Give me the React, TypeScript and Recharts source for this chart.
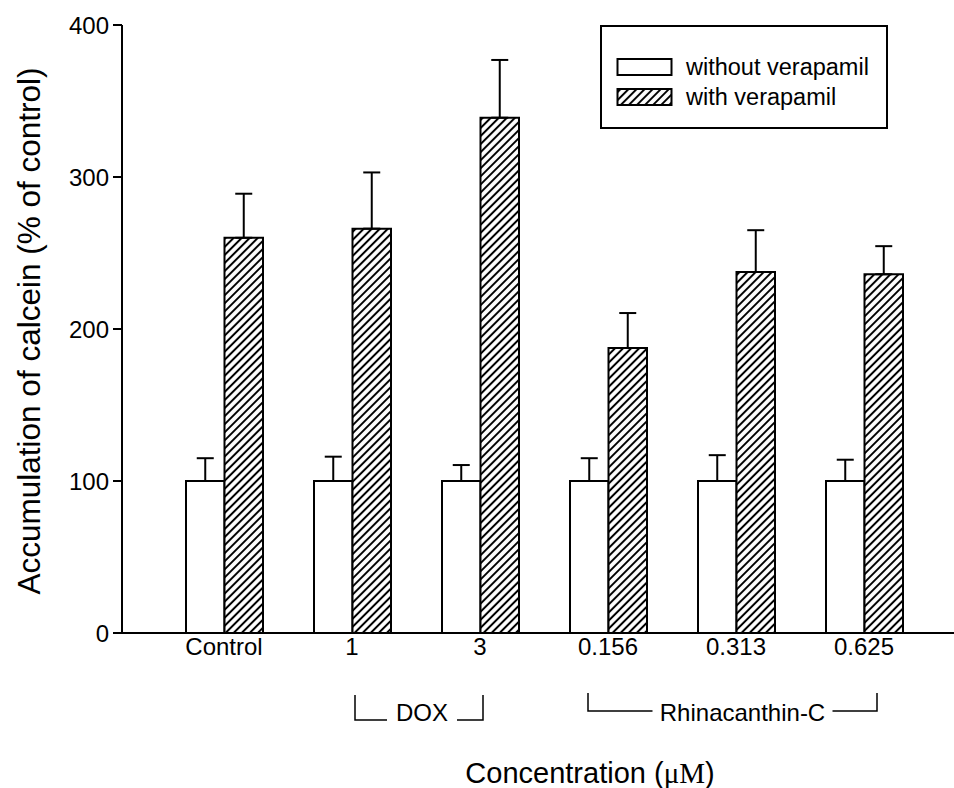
import React from 'react';
import { BarChart, Bar, XAxis, YAxis, ErrorBar, Legend } from 'recharts';

const categories = ['Control', '1', '3', '0.156', '0.313', '0.625'];
const withoutVerapamil = [100, 100, 100, 100, 100, 100];
const withoutVerapamilSE = [15, 16, 10.5, 15, 17, 14];
const withVerapamil = [260, 266, 339, 187.5, 237.5, 236];
const withVerapamilSE = [29, 37, 38, 23, 27.5, 18.5];
const yTicks = [0, 100, 200, 300, 400];
const seriesNames = ['without verapamil', 'with verapamil'];
const groups = [
  { label: 'DOX', start: 1, end: 2, kind: 'low' },
  { label: 'Rhinacanthin-C', start: 3, end: 5, kind: 'mid' },
];

const data = categories.map((name, i) => ({
  name,
  without: withoutVerapamil[i],
  withV: withVerapamil[i],
  withoutErr: [0, withoutVerapamilSE[i]],
  withErr: [0, withVerapamilSE[i]],
}));

const FONT = '"Liberation Sans", Arial, Helvetica, sans-serif';
const TICK_FS = 24;

const XTick = (props: any) => {
  const { x, y, payload, index } = props;
  const step = payload && payload.offset ? payload.offset * 2 : 128;
  const group = groups.find((g) => g.start === index);
  let bracket = null;
  if (group) {
    const xs = x;
    const xe = x + (group.end - group.start) * step;
    let lx, rx, cx, ly, top, half;
    if (group.kind === 'low') {
      lx = xs + 3;
      rx = xe + 3;
      cx = (lx + rx) / 2 + 3;
      ly = y + 87;
      top = y + 62;
      half = 35;
    } else {
      lx = xs - 20;
      rx = xe + 13;
      cx = (lx + rx) / 2 + 10;
      ly = y + 78;
      top = y + 60;
      half = 90;
    }
    bracket = (
      <g stroke="#000" strokeWidth={1.5} fill="none">
        <path d={`M${lx},${top} L${lx},${ly} L${cx - half},${ly}`} />
        <path d={`M${cx + half},${ly} L${rx},${ly} L${rx},${top}`} />
        <text x={cx} y={y + 79} textAnchor="middle" dominantBaseline="central" fontSize={TICK_FS} fontFamily={FONT} fill="#000" stroke="none">{group.label}</text>
      </g>
    );
  }
  return (
    <g>
      <text x={x} y={y + 13} textAnchor="middle" dominantBaseline="central" fontSize={TICK_FS} fontFamily={FONT} fill="#000">
        {payload.value}
      </text>
      {bracket}
    </g>
  );
};

const LegendBox = (props: any) => {
  const payload = [...(props.payload || [])].sort(
    (a: any, b: any) => seriesNames.indexOf(a.value) - seriesNames.indexOf(b.value)
  );
  return (
    <svg width={288} height={104} style={{ display: 'block', overflow: 'visible' }}>
      <defs>
        <pattern id="hatchLegend" patternUnits="userSpaceOnUse" width={5.7} height={5.7} patternTransform="rotate(45)">
          <rect width={5.7} height={5.7} fill="#fff" />
          <line x1={2.85} y1={0} x2={2.85} y2={5.7} stroke="#000" strokeWidth={2} />
        </pattern>
      </defs>
      <rect x={1} y={1} width={286} height={102} fill="#fff" stroke="#000" strokeWidth={2} />
      {payload.map((p: any, i: number) => (
        <g key={i}>
          <rect x={17.5} y={34 + i * 30} width={54} height={16} fill={p.dataKey === 'without' ? '#fff' : 'url(#hatchLegend)'} stroke="#000" strokeWidth={2} />
          <text x={86} y={42 + i * 30} dominantBaseline="central" fontSize={23.5} fontFamily={FONT} fill="#000">
            {p.value}
          </text>
        </g>
      ))}
    </svg>
  );
};

export default function App() {
  return (
    <div style={{ position: 'absolute', left: 0, top: 0, width: 954, height: 788, background: '#fff' }}>
      <BarChart
        width={954}
        height={788}
        data={data}
        margin={{ top: 25, right: 0, left: 62, bottom: 0 }}
        barGap={0}
        barSize={38.5}
      >
        <defs>
          <pattern id="hatch" patternUnits="userSpaceOnUse" width={5.7} height={5.7} patternTransform="rotate(45)">
            <rect width={5.7} height={5.7} fill="#fff" />
            <line x1={2.85} y1={0} x2={2.85} y2={5.7} stroke="#000" strokeWidth={2} />
          </pattern>
        </defs>
        <XAxis
          dataKey="name"
          height={155}
          padding={{ left: 38, right: 26 }}
          axisLine={{ stroke: '#000', strokeWidth: 2 }}
          tickLine={false}
          tickSize={0}
          tickMargin={0}
          interval={0}
          tick={<XTick />}
          label={{
            content: (p: any) => {
              const vb = p.viewBox || { x: 122, y: 633, width: 832 };
              return (
                <text x={vb.x + vb.width / 2 + 52} y={vb.y + 140} textAnchor="middle" dominantBaseline="central" fontSize={29} fontFamily={FONT} fill="#000">
                  Concentration (
                  <tspan fontFamily='"Liberation Serif", "Times New Roman", serif'>μM</tspan>)
                </text>
              );
            },
          }}
        />
        <YAxis
          width={60}
          domain={[0, 400]}
          ticks={yTicks}
          interval={0}
          tickSize={9}
          tickMargin={4}
          axisLine={{ stroke: '#000', strokeWidth: 2 }}
          tickLine={{ stroke: '#000', strokeWidth: 2 }}
          tick={{ fill: '#000', fontSize: TICK_FS, fontFamily: FONT }}
          label={{
            content: (p: any) => {
              const vb = p.viewBox || { x: 62, y: 25, height: 608 };
              const cx = 29;
              const cy = vb.y + vb.height / 2 + 2;
              return (
                <text x={cx} y={cy} transform={`rotate(-90 ${cx} ${cy})`} textAnchor="middle" dominantBaseline="central" fontSize={31.5} fontFamily={FONT} fill="#000">
                  Accumulation of calcein (% of control)
                </text>
              );
            },
          }}
        />
        <Legend
          content={<LegendBox />}
          wrapperStyle={{ position: 'absolute', left: 600, top: 25, width: 288, height: 0, overflow: 'visible' }}
        />
        <Bar dataKey="without" name={seriesNames[0]} fill="#fff" stroke="#000" strokeWidth={2} isAnimationActive={false}>
          <ErrorBar dataKey="withoutErr" width={8.5} stroke="#000" strokeWidth={2} direction="y" />
        </Bar>
        <Bar dataKey="withV" name={seriesNames[1]} fill="url(#hatch)" stroke="#000" strokeWidth={2} isAnimationActive={false}>
          <ErrorBar dataKey="withErr" width={8.5} stroke="#000" strokeWidth={2} direction="y" />
        </Bar>
      </BarChart>
    </div>
  );
}
